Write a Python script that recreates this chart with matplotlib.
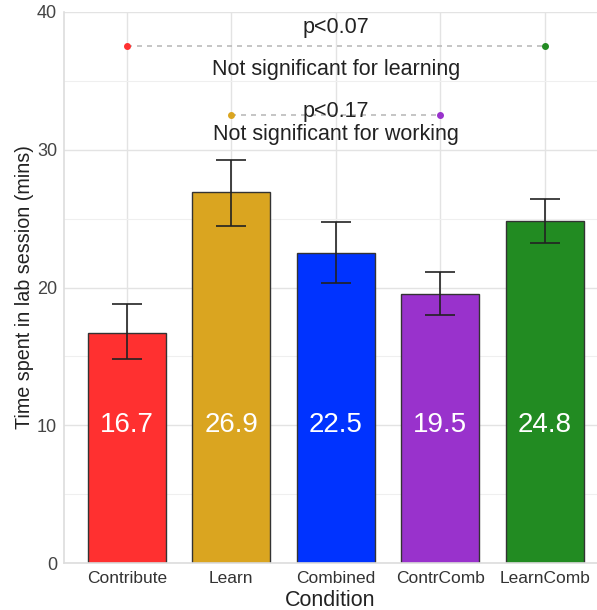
import matplotlib
matplotlib.use("Agg")
import matplotlib.pyplot as plt
import numpy as np

conditions = ["Contribute", "Learn", "Combined", "ContrComb", "LearnComb"]
means = [16.7, 26.9, 22.5, 19.5, 24.8]
err_low = [14.8, 24.5, 20.3, 18.0, 23.2]
err_high = [18.8, 29.25, 24.75, 21.1, 26.4]
colors = ["#FF3030", "#DAA520", "#0033FF", "#9932CC", "#228B22"]

# significance annotations: (idx1, idx2, y, p text, description, p_y, desc_y)
sig1 = (0, 4, 37.5, "p<0.07", "Not significant for learning", 38.9, 35.8)
sig2 = (1, 3, 32.5, "p<0.17", "Not significant for working", 32.75, 31.1)

plt.rcParams['font.family'] = ['Liberation Sans', 'DejaVu Sans']
fig = plt.figure(figsize=(5.97, 6.10), dpi=100)
ax = fig.add_axes([64/597, (610-563)/610, (597-64)/597, (563-12)/610])

x = np.arange(len(conditions))
ax.set_axisbelow(True)
ax.bar(x, means, width=0.75, color=colors, edgecolor="#333333", linewidth=1.0, zorder=2)
yerr = [np.array(means) - np.array(err_low), np.array(err_high) - np.array(means)]
ax.errorbar(x, means, yerr=yerr, fmt="none", ecolor="#222222", elinewidth=1.2,
            capsize=11, capthick=1.2, zorder=3)
for xi, m in zip(x, means):
    ax.text(xi, 10.0, f"{m}", color="white", ha="center", va="center", fontsize=20, zorder=4)

for (i1, i2, yy, ptxt, desc, py, dy) in (sig1, sig2):
    ax.plot([x[i1], x[i2]], [yy, yy], linestyle=(0, (3, 3)), color="#BBBBBB", lw=1.2, zorder=2)
    ax.scatter([x[i1]], [yy], color=colors[i1], s=16, zorder=3)
    ax.scatter([x[i2]], [yy], color=colors[i2], s=16, zorder=3)
    ax.text(2, py, ptxt, ha="center", va="center", fontsize=15.5, color="#222222", zorder=4)
    ax.text(2, dy, desc, ha="center", va="center", fontsize=15.5, color="#222222", zorder=4)

ax.set_xlim(-0.6, 4.5)
ax.set_ylim(0, 40)
ax.set_xticks(x)
ax.set_xticklabels(conditions, fontsize=12.5, color="#333333")
ax.set_yticks([0, 10, 20, 30, 40])
ax.set_yticks([5, 15, 25, 35], minor=True)
ax.tick_params(axis="y", labelsize=13, colors="#444444", length=0, which="both", pad=5)
ax.tick_params(axis="x", length=0, pad=6)
ax.grid(True, which="major", color="#E3E3E3", lw=1.0)
ax.grid(True, which="minor", axis="y", color="#EFEFEF", lw=0.8)
for s in ["top", "right"]:
    ax.spines[s].set_visible(False)
for s in ["left", "bottom"]:
    ax.spines[s].set_color("#DDDDDD")
    ax.spines[s].set_linewidth(1.2)
ax.set_xlabel("Condition", fontsize=15.5, color="#222222", labelpad=3)
ax.set_ylabel("Time spent in lab session (mins)", fontsize=14.2, color="#222222", labelpad=2)

fig.savefig("out.png", dpi=100)
